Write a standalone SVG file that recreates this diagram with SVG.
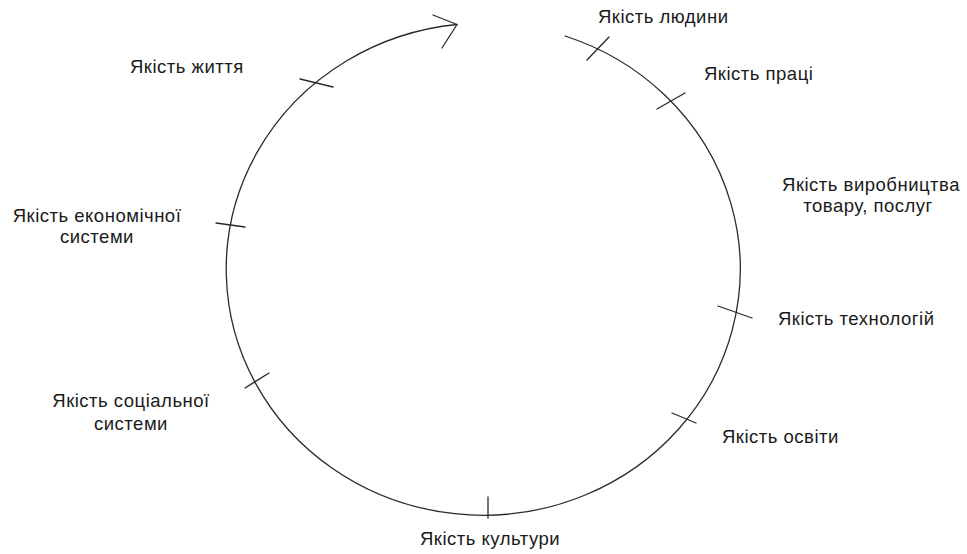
<svg xmlns="http://www.w3.org/2000/svg" width="967" height="554" viewBox="0 0 967 554">
<style>
.ln{fill:none;stroke:#2a2a2a;stroke-width:1.3;stroke-linecap:round;stroke-linejoin:round}
.t{font-family:"Liberation Sans",Arial,sans-serif;font-size:18.5px;letter-spacing:0.5px;fill:#1a1a1a}
.m{text-anchor:middle}
</style>
<rect width="967" height="554" fill="#fff"/>
<g id="connectors">
<path class="ln" d="M 565 36 A 257 246 0 1 1 457 24.5"/>
<polyline class="ln" points="433,15 457,24.5 442,48"/>
<line class="ln" x1="587" y1="60" x2="609" y2="37"/>
<line class="ln" x1="657" y1="109" x2="685" y2="93"/>
<line class="ln" x1="718" y1="306" x2="752" y2="318"/>
<line class="ln" x1="672" y1="413" x2="696" y2="423"/>
<line class="ln" x1="488" y1="497" x2="488" y2="518"/>
<line class="ln" x1="245" y1="388" x2="269" y2="373"/>
<line class="ln" x1="216" y1="223" x2="245" y2="227"/>
<line class="ln" x1="300" y1="79" x2="333" y2="87"/>
</g>
<g id="n-lyudyny"><text class="t" x="598" y="23">Якість людини</text></g>
<g id="n-pratsi"><text class="t" x="704" y="80">Якість праці</text></g>
<g id="n-vyrobnytstva"><text class="t m" x="871" y="191">Якість виробництва</text><text class="t m" x="868" y="212">товару, послуг</text></g>
<g id="n-tekhnolohii"><text class="t" x="778" y="325">Якість технологій</text></g>
<g id="n-osvity"><text class="t" x="722" y="443">Якість освіти</text></g>
<g id="n-kultury"><text class="t" x="420" y="545">Якість культури</text></g>
<g id="n-sotsialnoi"><text class="t m" x="131" y="407">Якість соціальної</text><text class="t m" x="131" y="430">системи</text></g>
<g id="n-ekonomichnoi"><text class="t m" x="97" y="222">Якість економічної</text><text class="t m" x="97" y="243">системи</text></g>
<g id="n-zhyttya"><text class="t" x="130" y="73">Якість життя</text></g>
</svg>
